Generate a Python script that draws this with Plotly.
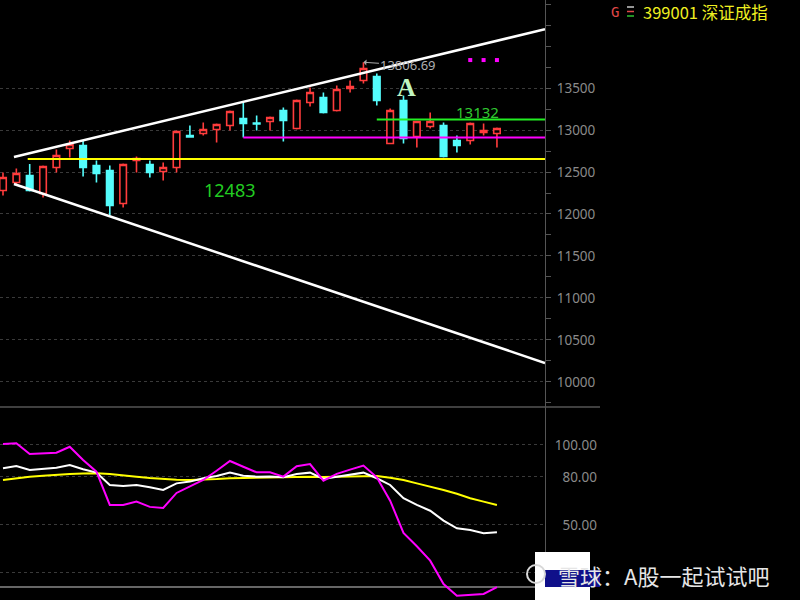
import plotly.graph_objects as go

# ---------------- data ----------------
idx = list(range(38))
opens = [12280, 12375, 12459, 12244, 12554, 12780, 12816, 12578, 12518, 12125,
         12637, 12589, 12506, 12554, 12935, 12958, 13006, 13054, 13137, 13083,
         13101, 13232, 13018, 13327, 13387, 13232, 13494, 13589, 13637, 12839,
         13351, 12923, 13042, 13054, 12875, 12875, 12970, 12958]
highs = [12494, 12542, 12595, 12578, 12768, 12875, 12875, 12637, 12578, 12601,
         12685, 12637, 12613, 12994, 13054, 13089, 13077, 13232, 13327, 13173,
         13161, 13268, 13363, 13506, 13446, 13530, 13589, 13806.69, 13672, 13256,
         13411, 13101, 13208, 13089, 12935, 13089, 13077, 13030]
lows = [12221, 12340, 12268, 12197, 12494, 12673, 12447, 12375, 11983, 12078,
        12494, 12435, 12399, 12494, 12911, 12935, 12851, 12994, 12911, 12994,
        12994, 12863, 13006, 13280, 13196, 13220, 13446, 13553, 13292, 12839,
        12839, 12792, 13018, 12673, 12732, 12827, 12935, 12792]
closes = [12435, 12482, 12280, 12566, 12697, 12827, 12554, 12482, 12102, 12589,
          12661, 12494, 12554, 12982, 12917, 13006, 13065, 13220, 13077, 13071,
          13149, 13113, 13351, 13446, 13208, 13482, 13518, 13732, 13351, 13232,
          12899, 13101, 13101, 12685, 12816, 13077, 12994, 13018]

k_vals = [85.4, 86.9, 84.4, 85.0, 85.8, 87.5, 84.8, 82.7, 75.0, 74.4,
          75.0, 73.6, 71.9, 76.0, 77.1, 79.2, 80.6, 82.7, 80.8, 80.2,
          80.3, 79.8, 81.9, 82.7, 78.8, 80.2, 81.3, 82.7, 79.2, 75.0,
          66.7, 62.5, 58.9, 52.7, 47.9, 46.9, 44.8, 45.4]
d_vals = [78.1, 79.2, 80.2, 80.8, 81.4, 81.9, 82.1, 82.3, 81.8, 81.2,
          80.2, 79.3, 78.6, 78.3, 78.1, 78.3, 78.7, 79.2, 79.4, 79.6,
          79.7, 79.8, 80.2, 80.2, 80.0, 80.2, 80.4, 80.6, 80.6, 79.5,
          78.1, 76.0, 74.0, 71.9, 69.5, 66.7, 64.6, 62.5]
j_vals = [100.6, 101.1, 94.4, 95.0, 95.2, 98.9, 90.6, 83.3, 62.5, 62.5,
          64.6, 61.3, 60.6, 70.0, 73.9, 78.1, 83.9, 90.0, 86.4, 82.9,
          82.9, 80.2, 86.7, 88.1, 77.7, 81.9, 84.6, 87.1, 79.8, 65.2,
          45.0, 36.7, 27.7, 13.1, 5.8, 6.4, 6.9, 11.1]

price_ticks = [10000, 10500, 11000, 11500, 12000, 12500, 13000, 13500]
price_tick_text = [str(v) for v in price_ticks]
ind_ticks = [20, 50, 80, 100]
ind_tick_text = ["", "\u200750.00", "\u200780.00", "100.00"]

support_level = 12655
mid_level = 12911
resist_level = 13125
support_start, mid_start, resist_start = 1.85, 18, 28
x_end = 40.6

upper_x = [0.82, 40.6]
upper_y = [12679, 14200]
lower_x = [0.82, 40.6]
lower_y = [12357, 10226]

dots_x = [35, 36, 37]
dots_y = [13833, 13833, 13833]

label_support = "12483"
label_resist = "13132"
peak_idx = 27
peak_val = 13806.69
title_text = "399001 深证成指"
watermark = "雪球：A股一起试试吧"

RED = "#ff3c3c"
CYAN = "#54fcfc"

fig = go.Figure()

fig.add_trace(go.Candlestick(
    x=idx, open=opens, high=highs, low=lows, close=closes,
    increasing=dict(line=dict(color=RED, width=1.6), fillcolor="black"),
    decreasing=dict(line=dict(color=CYAN, width=1.6), fillcolor=CYAN),
    whiskerwidth=0, hoverinfo="skip", xaxis="x", yaxis="y", showlegend=False))

# trend lines
fig.add_trace(go.Scatter(x=upper_x, y=upper_y, mode="lines",
                         line=dict(color="white", width=2.5), xaxis="x", yaxis="y",
                         showlegend=False, hoverinfo="skip"))
fig.add_trace(go.Scatter(x=lower_x, y=lower_y, mode="lines",
                         line=dict(color="white", width=2.5), xaxis="x", yaxis="y",
                         showlegend=False, hoverinfo="skip"))
# levels
for lvl, start, col in [(support_level, support_start, "#ffff00"),
                        (mid_level, mid_start, "#ff00ff"),
                        (resist_level, resist_start, "#22ee22")]:
    fig.add_trace(go.Scatter(x=[start, x_end], y=[lvl, lvl], mode="lines",
                             line=dict(color=col, width=2), xaxis="x", yaxis="y",
                             showlegend=False, hoverinfo="skip"))

fig.add_trace(go.Scatter(x=dots_x, y=dots_y, mode="markers",
                         marker=dict(color="#ff00ff", size=4, symbol="square"),
                         xaxis="x", yaxis="y", showlegend=False, hoverinfo="skip"))

# KDJ
for vals, col in [(d_vals, "#ffff00"), (k_vals, "#ffffff"), (j_vals, "#ff00ff")]:
    fig.add_trace(go.Scatter(x=idx, y=vals, mode="lines",
                             line=dict(color=col, width=2), xaxis="x2", yaxis="y2",
                             showlegend=False, hoverinfo="skip"))

axis_font = dict(family="Noto Sans", size=13.5, color="#8a8a8a")
fig.update_layout(
    width=800, height=600,
    margin=dict(l=0, r=0, t=0, b=0),
    paper_bgcolor="black", plot_bgcolor="rgba(0,0,0,0)",
    showlegend=False,
    xaxis=dict(domain=[0, 545 / 800], range=[-0.225, 40.6], anchor="y",
               showticklabels=False, showgrid=False, zeroline=False, showline=False,
               rangeslider=dict(visible=False), fixedrange=True),
    yaxis=dict(domain=[0.32, 1], range=[9690, 14548], anchor="x", side="right",
               tickvals=price_ticks, ticktext=price_tick_text, tickfont=axis_font,
               ticks="outside", ticklen=5, tickcolor="#555", ticklabelstandoff=3,
               minor=dict(dtick=250, tick0=0, ticks="outside", ticklen=5,
                          tickcolor="#555", showgrid=False),
               showline=True, linecolor="#555", linewidth=1,
               showgrid=True, gridcolor="#3a3a3a", griddash="dot", gridwidth=1,
               zeroline=False, automargin=False),
    xaxis2=dict(domain=[0, 545 / 800], matches="x", anchor="y2",
                showticklabels=False, showgrid=False, zeroline=False, showline=False),
    yaxis2=dict(domain=[0, 0.32], range=[3.1, 123.1], anchor="x2", side="right",
                tickvals=ind_ticks, ticktext=ind_tick_text, tickfont=axis_font,
                ticks="", ticklabelstandoff=6,
                showline=True, linecolor="#555", linewidth=1,
                showgrid=True, gridcolor="#3a3a3a", griddash="dot", gridwidth=1,
                zeroline=False, automargin=False),
)

def px(x):
    return x / 800

def py(y):
    return 1 - y / 600

shapes = [
    # panel separator
    dict(type="line", xref="paper", yref="paper", x0=0, x1=px(600), y0=py(407), y1=py(407),
         line=dict(color="#555", width=1.5)),
    # indicator baseline
    dict(type="line", xref="paper", yref="paper", x0=0, x1=px(545), y0=py(587), y1=py(587),
         line=dict(color="#888", width=1.5), layer="below"),
    # header icon lines
    dict(type="line", xref="paper", yref="paper", x0=px(627), x1=px(634), y0=py(7), y1=py(7),
         line=dict(color="#c8c8c8", width=1.5)),
    dict(type="line", xref="paper", yref="paper", x0=px(627), x1=px(634), y0=py(11.5), y1=py(11.5),
         line=dict(color="#e04848", width=1.5)),
    dict(type="line", xref="paper", yref="paper", x0=px(627), x1=px(634), y0=py(16), y1=py(16),
         line=dict(color="#30c030", width=1.5)),
    # watermark box
    dict(type="rect", xref="paper", yref="paper", x0=px(535), x1=px(590), y0=py(600), y1=py(552),
         fillcolor="white", line=dict(width=0), layer="above"),
    dict(type="rect", xref="paper", yref="paper", x0=px(545), x1=px(600), y0=py(587), y1=py(570),
         fillcolor="#10108a", line=dict(width=0), layer="above"),
    dict(type="circle", xref="paper", yref="paper", x0=px(527), x1=px(545), y0=py(583), y1=py(565),
         line=dict(color="#d8d8d8", width=2), layer="above"),
]
fig.update_layout(shapes=shapes)

annotations = [
    dict(x=16.93, y=12286, xref="x", yref="y", text=label_support, showarrow=False,
         font=dict(family="Noto Sans", size=18, color="#22cc22")),
    dict(x=35.58, y=13214, xref="x", yref="y", text=label_resist, showarrow=False,
         font=dict(family="Noto Sans", size=15, color="#30c830")),
    dict(x=30.26, y=13505, xref="x", yref="y", text="<b>A</b>", showarrow=False,
         font=dict(family="Liberation Serif", size=26, color="#c0f5c0")),
    dict(x=peak_idx, y=peak_val, xref="x", yref="y", text=f"{peak_val:.2f}",
         showarrow=True, ax=45, ay=3, arrowhead=1, arrowsize=1, arrowwidth=1,
         arrowcolor="#aaaaaa",
         font=dict(family="Noto Sans", size=13, color="#b0b0b0")),
    dict(x=px(609), y=py(12), xref="paper", yref="paper", xanchor="left", yanchor="middle",
         text="G", showarrow=False,
         font=dict(family="DejaVu Sans Mono", size=14, color="#e04848")),
    dict(x=px(641), y=py(12), xref="paper", yref="paper", xanchor="left", yanchor="middle",
         text=title_text, showarrow=False,
         font=dict(family="Noto Sans CJK SC", size=16.5, color="#f0f020")),
    dict(x=px(556), y=py(575), xref="paper", yref="paper", xanchor="left", yanchor="middle",
         text=watermark, showarrow=False,
         font=dict(family="Noto Sans CJK SC", size=22, color="#e6e6e6")),
]
fig.update_layout(annotations=annotations)

fig.write_html("out.html", config={"displayModeBar": False},
               post_script="document.body.style.margin='0px';")
